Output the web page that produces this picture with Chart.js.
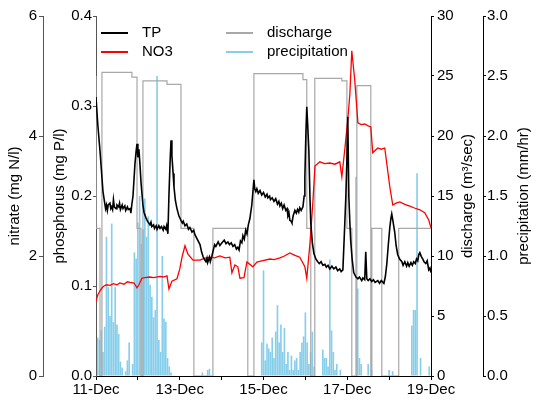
<!DOCTYPE html>
<html>
<head>
<meta charset="utf-8">
<script src="https://cdn.jsdelivr.net/npm/chart.js@4.4.1/dist/chart.umd.min.js"></script>
<style>
  html, body { margin: 0; padding: 0; background: #fff; }
  #wrap { width: 540px; height: 409px; }
</style>
</head>
<body>
<div id="wrap"><canvas id="myChart" width="540" height="409"></canvas></div>
<script>
// x is hours since 11-Dec 00:00
const dayLabels = ['11-Dec', '12-Dec', '13-Dec', '14-Dec', '15-Dec', '16-Dec', '17-Dec', '18-Dec', '19-Dec'];

// total phosphorus (mg P/l)
const tpHours = [
  0, 1, 2.3, 4, 5, 5.5, 6, 6.5, 7, 8,
  8.5, 9, 9.5, 10, 10.5, 11.5, 12, 13, 13.5, 14,
  15, 15.5, 16.5, 17, 18, 18.5, 19.5, 20, 20.5, 21.2,
  22.3, 23, 23.5, 24, 24.6, 25.2, 25.8, 26.9, 27.5, 28.6,
  29.5, 30.9, 31.5, 32, 33, 33.5, 34.5, 35, 36, 36.7,
  37.5, 38.5, 39, 40, 40.5, 41.2, 41.8, 42.5, 43, 43.5,
  44.2, 44.7, 45.5, 46.4, 47.5, 48.7, 49.5, 50, 51, 52,
  53, 53.8, 55, 56, 56.7, 58, 59.6, 60.5, 61.3, 62,
  63, 63.6, 64, 65, 65.5, 66.4, 67, 68, 68.7, 70,
  71, 72.2, 73.5, 74.5, 75.6, 76.5, 77.5, 78.5, 79.5, 80.5,
  81.3, 82, 82.8, 83.6, 84.2, 85, 85.8, 86.5, 87.3, 88.2,
  89.3, 90.5, 91, 91.6, 92.2, 93, 94, 95, 96, 97,
  98, 98.5, 99.5, 100, 101, 102, 103, 104, 104.8, 105.4,
  106.2, 107, 107.8, 108.8, 109.5, 110, 110.6, 111.1, 111.8, 112.3,
  113, 114, 114.8, 115.5, 116.2, 116.8, 117.6, 118.6, 119.3, 119.7,
  120.3, 120.8, 121.3, 122, 122.6, 123.1, 124, 124.9, 126, 127.1,
  128, 129, 130, 131.2, 132, 133, 134, 135.2, 136.3, 137.5,
  138.5, 139.7, 140.5, 141.5, 142.6, 143.2, 143.8, 144.3, 144.9, 145.5,
  146, 146.8, 147.7, 149, 150.1, 151, 152.3, 153, 154, 154.6,
  155.2, 156, 157, 158, 159, 160, 161.5, 162.5, 163.5, 165,
  165.8, 166.7, 167.5, 168.4, 169, 169.5, 170.2, 171.2, 172, 172.9,
  174, 175.3, 176, 177, 178, 178.7, 179.5, 180.5, 181.3, 182.1,
  183, 183.7, 184.4, 185, 185.6, 186.4, 187.3, 188, 189, 189.8,
  190.7, 191.4, 192];
const tpValues = [
  0.31, 0.28, 0.25, 0.205, 0.192, 0.186, 0.19, 0.184, 0.19, 0.192,
  0.186, 0.188, 0.185, 0.196, 0.188, 0.186, 0.19, 0.188, 0.192, 0.185,
  0.19, 0.186, 0.189, 0.184, 0.188, 0.185, 0.186, 0.181, 0.19, 0.2,
  0.235, 0.25, 0.258, 0.243, 0.252, 0.235, 0.215, 0.19, 0.182, 0.176,
  0.172, 0.168, 0.171, 0.166, 0.168, 0.164, 0.167, 0.163, 0.167, 0.164,
  0.166, 0.162, 0.166, 0.163, 0.167, 0.158, 0.2, 0.24, 0.262, 0.245,
  0.225, 0.21, 0.195, 0.186, 0.178, 0.173, 0.17, 0.172, 0.167, 0.169,
  0.163, 0.165, 0.16, 0.162, 0.157, 0.152, 0.146, 0.138, 0.133, 0.13,
  0.127, 0.131, 0.126, 0.132, 0.127, 0.133, 0.138, 0.146, 0.144, 0.149,
  0.145, 0.148, 0.151, 0.147, 0.149, 0.146, 0.148, 0.144, 0.146, 0.141,
  0.143, 0.14, 0.15, 0.148, 0.156, 0.152, 0.162, 0.158, 0.168, 0.175,
  0.19, 0.218, 0.208, 0.205, 0.208, 0.203, 0.206, 0.201, 0.204, 0.199,
  0.202, 0.198, 0.2, 0.196, 0.198, 0.194, 0.197, 0.191, 0.194, 0.189,
  0.192, 0.186, 0.19, 0.184, 0.186, 0.178, 0.181, 0.173, 0.172, 0.17,
  0.178, 0.184, 0.181, 0.185, 0.182, 0.187, 0.184, 0.188, 0.2, 0.22,
  0.27, 0.299, 0.28, 0.25, 0.2, 0.17, 0.148, 0.136, 0.13, 0.127,
  0.125, 0.127, 0.123, 0.124, 0.121, 0.123, 0.119, 0.122, 0.119, 0.121,
  0.117, 0.119, 0.116, 0.118, 0.17, 0.2, 0.24, 0.288, 0.2, 0.17,
  0.15, 0.13, 0.115, 0.11, 0.108, 0.11, 0.106, 0.109, 0.107, 0.138,
  0.108, 0.106, 0.108, 0.105, 0.107, 0.104, 0.106, 0.103, 0.106, 0.103,
  0.11, 0.125, 0.145, 0.165, 0.175, 0.18, 0.172, 0.16, 0.145, 0.135,
  0.13, 0.127, 0.123, 0.127, 0.122, 0.126, 0.122, 0.126, 0.123, 0.127,
  0.125, 0.13, 0.128, 0.135, 0.137, 0.133, 0.13, 0.127, 0.125, 0.128,
  0.118, 0.12, 0.115];

// nitrate (mg N/l)
const no3Hours = [
  0, 1, 2.3, 3.5, 4.6, 6, 8, 10, 12, 13.7,
  16, 18, 19.5, 21.8, 23.5, 24.6, 26.3, 28, 30.9, 33,
  36.7, 38.5, 40.7, 41.8, 43.5, 46.4, 48, 49.3, 51, 52.7,
  55.6, 59.6, 62, 65.3, 68, 71, 74, 76.7, 77.9, 79.6,
  81.3, 82.5, 84.8, 86.5, 89.9, 92.2, 95, 99.7, 102, 105.4,
  108, 111.1, 114, 116.8, 119.7, 120.8, 122.6, 124.3, 125.5, 128.3,
  131, 134, 137, 139.7, 140.9, 142.6, 144.3, 145.5, 146.6, 148.3,
  150.1, 152, 154, 156, 157.5, 158.6, 161.5, 163.5, 165.5, 168.4,
  170.1, 172, 174.1, 177, 179.8, 182.5, 185.6, 188.4, 190.7, 192];
const no3Values = [
  1.25, 1.35, 1.42, 1.47, 1.5, 1.52, 1.51, 1.54, 1.52, 1.55,
  1.53, 1.57, 1.56, 1.55, 1.47, 1.52, 1.63, 1.64, 1.65, 1.64,
  1.66, 1.65, 1.67, 1.45, 1.58, 1.62, 1.78, 1.98, 2.17, 2.03,
  1.93, 1.93, 1.96, 1.98, 1.97, 2.0, 1.97, 1.98, 1.72, 1.85,
  1.82, 1.63, 1.64, 1.9, 1.82, 1.9, 1.92, 1.95, 1.94, 1.97,
  2.0, 2.05, 2.01, 1.98, 1.82, 1.63, 2.2, 2.9, 3.5, 3.57,
  3.54, 3.55, 3.53, 3.57, 3.32, 3.78, 4.27, 4.7, 5.42, 4.93,
  4.22, 4.19, 4.2, 4.17, 4.15, 3.72, 3.8, 3.78, 3.8, 3.15,
  2.85, 2.88, 2.9, 2.86, 2.83, 2.8, 2.77, 2.72, 2.6, 2.47];

// discharge (m3/sec), each value holds until the next hour listed
const qHours = [0, 2.3, 3.4, 20.6, 23.5, 25.8, 26.9, 40.7, 48.7, 56.1, 67, 87, 90.5, 118.6, 120.8, 123.1, 125.4, 140.9, 143.8, 146.6,
  149.5, 157.5, 158.1, 163.8, 173.5, 187.9, 192];
const qValues = [25, 12.3, 0, 25.3, 24.9, 12.3, 0, 24.6, 24.3, 12.3, 0, 12.3, 0, 25.2, 24.7, 12.3, 0, 24.8, 24.6, 12.3,
  0, 24.2, 0, 12.3, 0, 12.3, 12.3];

// hourly precipitation (mm/hr), index = hour
const precip = [
  0, 0.32, 0.3, 0.38, 0.2, 0.41, 1.16, 0.74, 0.5, 1.27, 0.45, 0.74, 0.43, 0.35, 0.12, 0.07, 0, 0.04, 0.13, 0.28,
  0, 0.1, 1.03, 0.98, 1.28, 1.5, 1.1, 1.22, 1.48, 1.16, 1.33, 0.76, 0.66, 0.49, 0.55, 2.5, 0.3, 0.2, 1.0, 0.48,
  0.45, 0.15, 0.08, 0.03, 0, 0, 0, 0, 0, 0, 0, 0, 0, 0, 0, 0, 0, 0, 0, 0,
  0, 0.03, 0, 0, 0.05, 0.06, 0, 0, 0, 0, 0, 0, 0, 0, 0, 0, 0, 0, 0, 0,
  0, 0, 0, 0, 0, 0, 0, 0, 0, 0, 0, 0, 0, 0, 0, 0.28, 0.88, 0.13, 0.27, 0.23,
  0.2, 0.32, 0.15, 0.37, 0.59, 0.28, 0.43, 0.2, 0.4, 0.1, 0.2, 0.05, 0.17, 0.05, 0.13, 0.15, 0.05, 0.2, 0.28, 0.33,
  0.53, 0.28, 0.1, 0.2, 0.37, 0.08, 0, 0, 0, 0, 0.22, 0.15, 0.15, 0.08, 0.97, 0.38, 0.2, 0.05, 0.1, 0,
  0.05, 0, 0, 0, 0, 0, 0, 0, 0, 1.66, 0.73, 0.15, 0.1, 0, 0, 0, 0.1, 0, 0.05, 0,
  0, 0, 0, 0, 0, 0, 0, 0, 0.05, 0, 0.04, 0, 0, 0, 0, 0, 0, 0, 0, 0,
  0, 0.42, 0.55, 0.55, 1.69, 0, 0.15, 0, 0, 0, 0, 0.08
];

const FONT = "'Liberation Sans', Arial, sans-serif";
Chart.defaults.font.family = FONT;
Chart.defaults.font.size = 15;
Chart.defaults.color = '#000';

const toPoints = (xs, ys) => xs.map((x, i) => ({ x: x, y: ys[i] }));

// right axis titles read bottom-to-top, and the 2x2 legend inside the plot
const extraText = {
  id: 'extraText',
  afterDraw(chart) {
    const ctx = chart.ctx;
    const area = chart.chartArea;
    const midY = (area.top + area.bottom) / 2;
    ctx.save();
    ctx.font = '15px ' + FONT;
    ctx.fillStyle = '#000';
    ctx.textAlign = 'center';
    ctx.textBaseline = 'middle';
    [['yQ', 'discharge (m\u00b3/sec)', 15], ['yR', 'precipitation (mm/hr)', 16]].forEach(([id, txt, off]) => {
      ctx.save();
      ctx.translate(chart.scales[id].right - off, midY);
      ctx.rotate(-Math.PI / 2);
      ctx.fillText(txt, 0, 0);
      ctx.restore();
    });

    const slots = [[0, 0], [0, 1], [1, 0], [1, 1]];
    ctx.textAlign = 'left';
    chart.data.datasets.forEach((ds, k) => {
      const [col, row] = slots[k];
      const x0 = area.left + 5 + col * 125;
      const y0 = area.top + 17 + row * 19;
      ctx.strokeStyle = ds.type === 'bar' ? ds.backgroundColor : ds.borderColor;
      ctx.lineWidth = 2;
      ctx.beginPath();
      ctx.moveTo(x0, y0);
      ctx.lineTo(x0 + 27, y0);
      ctx.stroke();
      ctx.fillText(ds.label, x0 + 41, y0);
    });
    ctx.restore();
  }
};

new Chart(document.getElementById('myChart'), {
  type: 'line',
  data: {
    datasets: [
      {
        type: 'line', label: 'TP', data: toPoints(tpHours, tpValues), yAxisID: 'yP',
        borderColor: '#000000', borderWidth: 1.6, pointRadius: 0, tension: 0, order: 0
      },
      {
        type: 'line', label: 'NO3', data: toPoints(no3Hours, no3Values), yAxisID: 'yN',
        borderColor: '#ff0000', borderWidth: 1.3, pointRadius: 0, tension: 0, order: 1
      },
      {
        type: 'line', label: 'discharge', data: toPoints(qHours, qValues), yAxisID: 'yQ',
        borderColor: '#a8a8a8', borderWidth: 1.2, pointRadius: 0, stepped: 'after', order: 2
      },
      {
        type: 'bar', label: 'precipitation', data: precip.map((v, i) => ({ x: i, y: v })), yAxisID: 'yR',
        backgroundColor: '#87ceeb', borderWidth: 0, barPercentage: 0.95, categoryPercentage: 1, order: 3
      }
    ]
  },
  options: {
    responsive: false,
    animation: false,
    layout: { padding: { top: 16, left: 0, right: 0, bottom: 0 } },
    plugins: { legend: { display: false }, tooltip: { enabled: false } },
    scales: {
      x: {
        type: 'linear', min: 0, max: 192, position: 'bottom', offset: false,
        ticks: {
          stepSize: 24, autoSkip: false, maxRotation: 0, padding: 1,
          callback: (v) => { const i = Math.round(v / 24); return i % 2 === 0 ? dayLabels[i] : ''; }
        },
        grid: { drawOnChartArea: false, drawTicks: true, tickLength: 4, color: '#000', offset: false },
        border: { color: '#000' },
        afterFit: (s) => { s.height = 33; }
      },
      yN: {
        type: 'linear', position: 'left', weight: 1, min: 0, max: 6,
        ticks: { stepSize: 2, padding: 2 },
        grid: { drawOnChartArea: false, tickLength: 4, color: '#555' },
        border: { color: '#555' },
        title: { display: true, text: 'nitrate (mg N/l)', padding: { top: 6, bottom: 0 } },
        afterFit: (s) => { s.width = 43; }
      },
      yP: {
        type: 'linear', position: 'left', weight: 0, min: 0, max: 0.4,
        ticks: { stepSize: 0.1, padding: 1, callback: (v) => v.toFixed(1) },
        grid: { drawOnChartArea: false, tickLength: 3, color: '#555' },
        border: { color: '#555' },
        title: { display: true, text: 'phosphorus (mg P/l)', padding: { top: 8, bottom: 0 } },
        afterFit: (s) => { s.width = 53; }
      },
      yQ: {
        type: 'linear', position: 'right', weight: 0, min: 0, max: 30,
        ticks: { stepSize: 5, padding: 3 },
        grid: { drawOnChartArea: false, tickLength: 3, color: '#000' },
        border: { color: '#000' },
        afterFit: (s) => { s.width = 52; }
      },
      yR: {
        type: 'linear', position: 'right', weight: 1, min: 0, max: 3,
        ticks: { stepSize: 0.5, padding: 1, callback: (v) => v.toFixed(1) },
        grid: { drawOnChartArea: false, tickLength: 3, color: '#000' },
        border: { color: '#000' },
        afterFit: (s) => { s.width = 57; }
      }
    }
  },
  plugins: [extraText]
});
</script>
</body>
</html>
